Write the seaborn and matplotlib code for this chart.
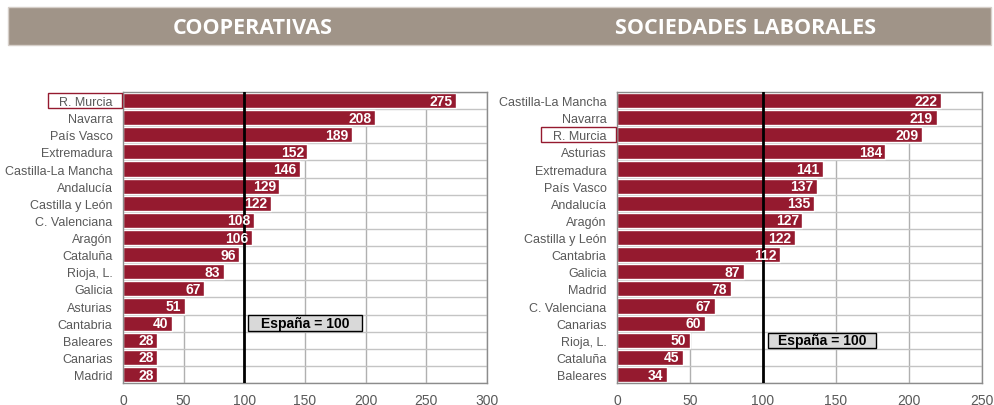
import numpy as np
import pandas as pd
import matplotlib.pyplot as plt
import matplotlib.patches as mpatches
import matplotlib.transforms as mtransforms
import seaborn as sns

# data (index, España = 100)
coop_regions = ["R. Murcia", "Navarra", "País Vasco", "Extremadura", "Castilla-La Mancha",
                "Andalucía", "Castilla y León", "C. Valenciana", "Aragón", "Cataluña",
                "Rioja, L.", "Galicia", "Asturias", "Cantabria", "Baleares", "Canarias", "Madrid"]
coop_values = [275, 208, 189, 152, 146, 129, 122, 108, 106, 96, 83, 67, 51, 40, 28, 28, 28]

sal_regions = ["Castilla-La Mancha", "Navarra", "R. Murcia", "Asturias", "Extremadura",
               "País Vasco", "Andalucía", "Aragón", "Castilla y León", "Cantabria", "Galicia",
               "Madrid", "C. Valenciana", "Canarias", "Rioja, L.", "Cataluña", "Baleares"]
sal_values = [222, 219, 209, 184, 141, 137, 135, 127, 122, 112, 87, 78, 67, 60, 50, 45, 34]

titles = ["COOPERATIVAS", "SOCIEDADES LABORALES"]
xmax = [300, 250]
espana = 100
highlight = "R. Murcia"
note_rows = ["Cantabria", "Rioja, L."]
note_span = [(103, 197), (103.5, 177.5)]   # x-extent of the "España = 100" box

bar_col = "#951a2f"
banner_col = "#a09488"
txt_col = "#595959"

sns.set_style("white")
plt.rcParams["font.family"] = ["Liberation Sans", "DejaVu Sans"]

fig = plt.figure(figsize=(9.94, 4.06), dpi=100)

# title banner
fig.patches.append(mpatches.Rectangle((8 / 994, 1 - 46 / 406), 983 / 994, 38 / 406,
                                      transform=fig.transFigure, facecolor=banner_col,
                                      edgecolor="#d6cfc9", lw=1))
for xc, t in zip([253 / 994, 746 / 994], titles):
    fig.text(xc, 1 - 28 / 406, t, ha="center", va="center", color="white",
             fontsize=15.5, fontweight="bold", family=["Open Sans", "DejaVu Sans"])

axes = [fig.add_axes([123 / 994, 0.054, 0.366, 0.717]),
        fig.add_axes([617 / 994, 0.054, 0.367, 0.717])]

panels = [(coop_regions, coop_values), (sal_regions, sal_values)]

for i, (ax, (regions, values)) in enumerate(zip(axes, panels)):
    df = pd.DataFrame({"region": regions, "value": values})
    sns.barplot(data=df, x="value", y="region", orient="h", color=bar_col,
                saturation=1, width=0.88, ax=ax, zorder=2)
    n = len(regions)
    ax.set_xlim(0, xmax[i])
    ax.set_ylim(n - 0.5, -0.5)
    ax.set_xticks(np.arange(0, xmax[i] + 1, 50))
    ax.set_yticks(np.arange(-0.5, n, 1), minor=True)
    ax.set_xlabel("")
    ax.set_ylabel("")
    ax.set_axisbelow(True)
    ax.grid(axis="x", which="major", color="#b0b0b0", lw=1)
    ax.grid(axis="y", which="minor", color="#c4c4c4", lw=1)
    ax.grid(axis="y", which="major", visible=False)
    ax.tick_params(axis="y", which="major", length=0, pad=7.5, labelsize=9, labelcolor=txt_col)
    ax.tick_params(axis="y", which="minor", length=4, color="#808080", direction="out")
    ax.tick_params(axis="x", length=0, pad=7, labelsize=10, labelcolor=txt_col)
    for s in ax.spines.values():
        s.set_color("#8c8c8c")
        s.set_linewidth(1)

    ax.axvline(espana, color="black", lw=2, zorder=4)

    for j, v in enumerate(values):
        ax.annotate(str(v), (v, j), xytext=(-2.5, 0), textcoords="offset points",
                    ha="right", va="center", color="white", fontsize=10,
                    fontweight="bold", zorder=5)

    # highlighted region label
    k = regions.index(highlight)
    trans = mtransforms.blended_transform_factory(ax.transAxes, ax.transData)
    ax.add_patch(mpatches.Rectangle((-0.207, k - 0.43), 0.203, 0.86, transform=trans,
                                    facecolor="none", edgecolor=bar_col, lw=1,
                                    clip_on=False, zorder=6))

    # España = 100 note
    r = regions.index(note_rows[i])
    x0, x1 = note_span[i]
    ax.add_patch(mpatches.Rectangle((x0, r - 0.45), x1 - x0, 0.9, facecolor="#d9d9d9",
                                    edgecolor="black", lw=1, zorder=6))
    ax.text((x0 + x1) / 2, r, "España = 100", ha="center", va="center",
            fontsize=10, fontweight="bold", color="black", zorder=7)

fig.savefig("out.png", dpi=100)
